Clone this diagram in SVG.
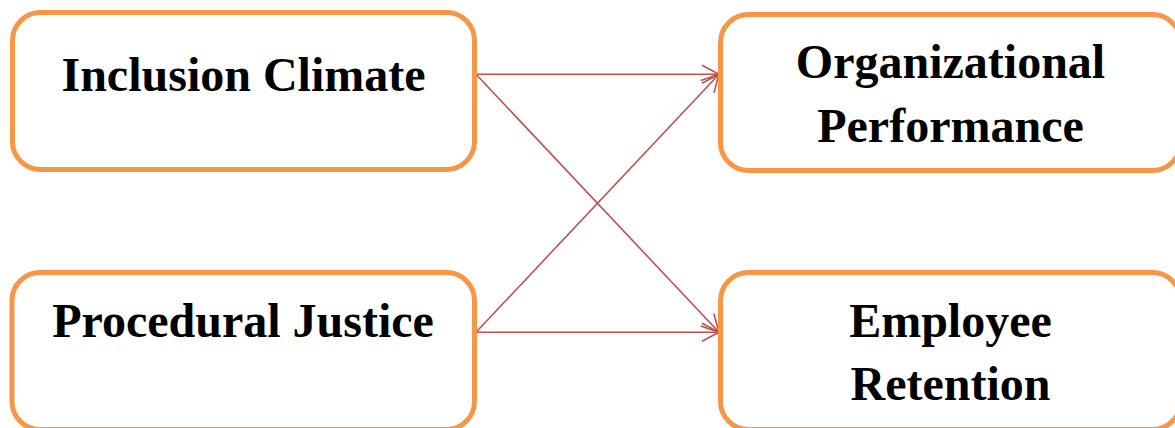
<svg xmlns="http://www.w3.org/2000/svg" width="1175" height="428" viewBox="0 0 1175 428">
<style>
.box{fill:#ffffff;stroke:#F79646;stroke-width:5}
.lbl{font-family:"Liberation Serif","Times New Roman",serif;font-weight:bold;font-size:48px;fill:#000;text-anchor:middle}
.edge{fill:none;stroke:#C0504D;stroke-width:1.6}
</style>
<defs>
<marker id="arr" markerUnits="userSpaceOnUse" markerWidth="24" markerHeight="24" viewBox="-20 -12 24 24" refX="0" refY="0" orient="auto">
<path d="M-17,-9 L0,0 L-17,9" fill="none" stroke="#C0504D" stroke-width="1.6"/>
</marker>
</defs>
<rect width="1175" height="428" fill="#ffffff"/>
<g id="edges">
<line class="edge" x1="476" y1="74.3" x2="719" y2="74.3" marker-end="url(#arr)"/>
<line class="edge" x1="476" y1="74.3" x2="719" y2="332.3" marker-end="url(#arr)"/>
<line class="edge" x1="476" y1="332.3" x2="719" y2="74.3" marker-end="url(#arr)"/>
<line class="edge" x1="476" y1="332.3" x2="719" y2="332.3" marker-end="url(#arr)"/>
</g>
<g id="inclusion-climate">
<rect class="box" x="12.5" y="12.5" width="462" height="157" rx="28" ry="28"/>
<text class="lbl" x="243.5" y="91">Inclusion Climate</text>
</g>
<g id="procedural-justice">
<rect class="box" x="12" y="272.5" width="462.5" height="157" rx="28" ry="28"/>
<text class="lbl" x="243" y="337">Procedural Justice</text>
</g>
<g id="organizational-performance">
<rect class="box" x="720.5" y="14.5" width="460" height="156" rx="28" ry="28"/>
<text class="lbl" x="950.5" y="78">Organizational</text>
<text class="lbl" x="950.5" y="142">Performance</text>
</g>
<g id="employee-retention">
<rect class="box" x="720.5" y="272.5" width="460" height="157" rx="28" ry="28"/>
<text class="lbl" x="950.5" y="337">Employee</text>
<text class="lbl" x="950.5" y="400">Retention</text>
</g>
</svg>
